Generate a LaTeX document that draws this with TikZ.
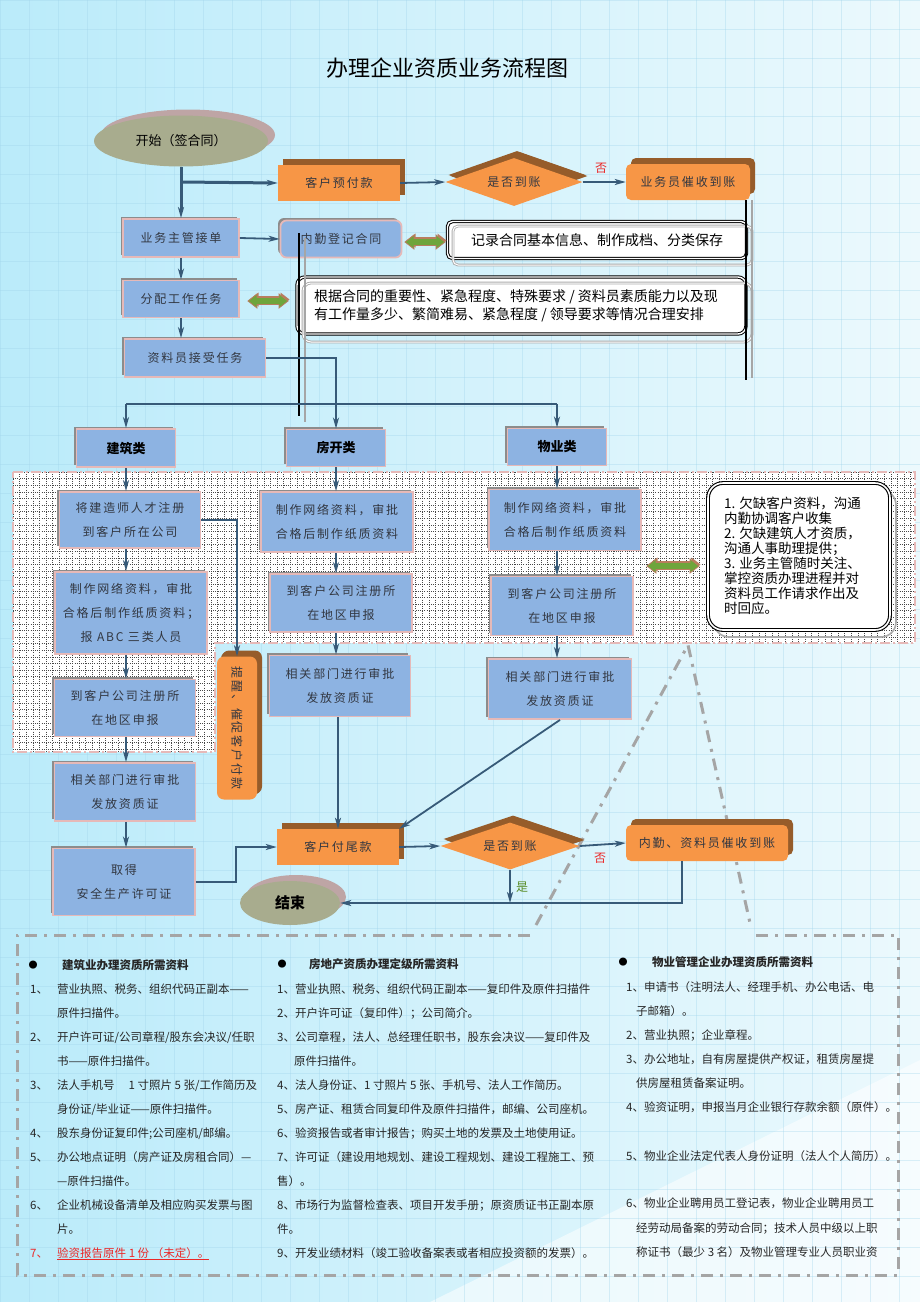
\documentclass[tikz,border=0pt]{standalone}
\usepackage{fontspec}
\setmainfont{Noto Sans CJK SC}
\newfontfamily\spacedfont[LetterSpace=15]{Noto Sans CJK SC}
\usetikzlibrary{shapes.geometric,arrows.meta,shadows,calc}
\definecolor{bgA}{RGB}{186,235,250}
\definecolor{bgB}{RGB}{236,249,253}
\definecolor{boxblue}{RGB}{141,179,226}
\definecolor{boxpink}{RGB}{230,185,184}
\definecolor{orng}{RGB}{247,150,70}
\definecolor{brwn}{RGB}{150,92,42}
\definecolor{olivec}{RGB}{168,172,142}
\definecolor{ellsh}{RGB}{190,165,165}
\definecolor{lnblue}{RGB}{55,90,120}
\definecolor{arrfill}{RGB}{110,150,180}
\definecolor{txtgray}{RGB}{50,55,65}
\definecolor{ddgray}{RGB}{165,165,165}
\definecolor{dgreen}{RGB}{110,165,60}
\definecolor{dbrown}{RGB}{185,125,95}
\definecolor{redc}{RGB}{235,40,40}
\definecolor{greenc}{RGB}{90,140,40}
\definecolor{gridc}{RGB}{160,212,235}
\newcommand\bxf{\spacedfont\fontsize{12}{24}\selectfont}
\newcommand\btf{\fontsize{11.5}{14}\selectfont}
\newcommand\dblarr[3]{%
  \fill[dbrown] ($(#1-#3/2+1.5,#2-1.5)$) -- ++(9,-7) -- ++(0,3.5) -- ++(#3-18,0) -- ++(0,-3.5) -- ++(9,7) -- ++(-9,7) -- ++(0,-3.5) -- ++(-#3+18,0) -- ++(0,3.5) -- cycle;
  \filldraw[fill=dgreen, draw=dbrown, line width=0.8pt] (#1-#3/2,#2) -- ++(9,-7) -- ++(0,3.5) -- ++(#3-18,0) -- ++(0,-3.5) -- ++(9,7) -- ++(-9,7) -- ++(0,-3.5) -- ++(-#3+18,0) -- ++(0,3.5) -- cycle;}
\begin{document}
\begin{tikzpicture}[x=1pt,y=-1pt,
  bluebox/.style={draw=boxpink, line width=1.8pt, fill=boxblue, general shadow={shadow xshift=-2.5pt, shadow yshift=2.5pt, fill=black!45}, text=txtgray, font=\bxf, align=center, inner sep=0pt},
  orangebox/.style={fill=orng, general shadow={shadow xshift=5pt, shadow yshift=6pt, fill=brwn}, text=txtgray, font=\bxf, align=center, inner sep=0pt},
  conn/.style={draw=lnblue, line width=1.8pt, -{Stealth[length=11pt,width=6pt,inset=3pt,fill=arrfill]}},
  thickconn/.style={conn, line width=3pt},
  plainline/.style={draw=lnblue, line width=1.8pt},
  griddot/.style={black!72, line width=0.5pt, dash pattern=on 1pt off 1.2pt},
  pinkdash/.style={boxpink, line width=1.6pt, dash pattern=on 10pt off 3pt on 2pt off 3pt},
  ddash/.style={ddgray, line width=3pt, dash pattern=on 12pt off 7pt on 3pt off 7pt},
  btxt/.style={anchor=base west, inner sep=0pt, font=\btf, text=black!85},
  cat/.style={bluebox, font=\fontsize{13}{15}\selectfont\bfseries, text=black}
]
\useasboundingbox (0,0) rectangle (920,1302);
% background
\shade[left color=bgA, right color=bgB] (0,0) rectangle (920,1302);
\fill[white, opacity=0.55] (430,1302) -- (920,1060) -- (920,1302) -- cycle;
\foreach \x in {0,29,...,920} \draw[gridc, line width=0.6pt, opacity=0.35] (\x,0) -- (\x,1302);
\foreach \y in {0,29,...,1302} \draw[gridc, line width=0.6pt, opacity=0.35] (0,\y) -- (920,\y);

% title
\node[font=\fontsize{22}{26}\selectfont, text=black] (title) at (447,68) {办理企业资质业务流程图};

% dotted grid region
\fill[white] (13,472) -- (915,472) -- (915,643) -- (215,643) -- (215,752) -- (13,752) -- cycle;
\begin{scope}
\clip (13,472) -- (915,472) -- (915,643) -- (215,643) -- (215,752) -- (13,752) -- cycle;
\foreach \x in {13,19.6,...,915} \draw[griddot] (\x,472) -- (\x,752);
\foreach \y in {472,478.6,...,752} \draw[griddot] (13,\y) -- (915,\y);
\end{scope}
\draw[pinkdash] (13,472) -- (915,472) -- (915,643) -- (215,643) -- (215,752) -- (13,752) -- cycle;

% bottom dash-dot frame and callout legs
\draw[ddash] (536,925) -- (688,645) -- (750,923);
\draw[ddash] (530,935) -- (17,935) -- (17,1275) -- (898,1275) -- (898,935) -- (751,935);

% ---- top part
\node[ellipse, fill=olivec, general shadow={shadow xshift=7pt, shadow yshift=6pt, fill=ellsh}, minimum width=174pt, minimum height=51pt, inner sep=0pt, font=\fontsize{13}{15}\selectfont, text=black] (st) at (181,141) {开始（签合同）};
\node[orangebox, minimum width=122pt, minimum height=36pt] (kyf) at (339,183) {客户预付款};
\node[orangebox, diamond, aspect=3, minimum width=137pt, minimum height=48pt, general shadow={shadow xshift=3pt, shadow yshift=7pt, fill=brwn}] (d1) at (514,182) {是否到账};
\node[orangebox, rounded corners=5pt, minimum width=124pt, minimum height=36pt] (ysc) at (688,182) {业务员催收到账};
\node[text=redc, font=\fontsize{12}{14}\selectfont, inner sep=0pt] (no1) at (601,168) {否};

\node[bluebox, minimum width=116pt, minimum height=38pt] (zgjd) at (181,238) {业务主管接单};
\node[bluebox, rounded corners=6pt, minimum width=121pt, minimum height=37pt] (njdj) at (341,239) {内勤登记合同};
\node[bluebox, minimum width=116pt, minimum height=37pt] (fp) at (181,299) {分配工作任务};
\node[bluebox, minimum width=141pt, minimum height=38pt] (zl) at (195,358) {资料员接受任务};

% record box
\node[draw=black, double=white, double distance=1.4pt, line width=1pt, fill=white, rounded corners=5pt, minimum width=299pt, minimum height=37pt, inner sep=0pt] (jl) at (597,240) {};
\draw[gray!65, double=white, double distance=1pt, line width=0.9pt, rounded corners=5pt] (453,226) rectangle (752,265);
\node[font=\fontsize{14}{16}\selectfont, text=black, inner sep=0pt] (jlt) at (597,240) {记录合同基本信息、制作成档、分类保存};

% arrangement box
\node[draw=black, double=white, double distance=1.4pt, line width=1pt, fill=white, rounded corners=8pt, minimum width=449pt, minimum height=57pt, inner sep=0pt] (gj) at (521.5,305.5) {};
\draw[gray!65, double=white, double distance=1pt, line width=0.9pt, rounded corners=8pt] (303,283) rectangle (752,342);
\node[anchor=west, align=left, font=\fontsize{14}{18}\selectfont, text=black, inner sep=0pt] (gjt) at (314,306) {根据合同的重要性、紧急程度、特殊要求 / 资料员素质能力以及现\\有工作量多少、繁简难易、紧急程度 / 领导要求等情况合理安排};

% vertical double lines
\draw[black, line width=1.3pt] (299,233) -- (299,416);
\draw[gray!70, line width=1.3pt] (305,238) -- (305,422);
\draw[black, line width=1.3pt] (746,200) -- (746,380);
\draw[gray!70, line width=1.3pt] (752,200) -- (752,378);

\dblarr{425}{242}{40}
\dblarr{268}{301}{40}
\dblarr{673}{566}{52}

% categories
\node[cat, minimum width=99pt, minimum height=38pt] (jz) at (126,448) {建筑类};
\node[cat, minimum width=99pt, minimum height=37pt] (fk) at (336,448) {房开类};
\node[cat, minimum width=99pt, minimum height=37pt] (wy) at (557,447) {物业类};

% column 1
\node[bluebox, minimum width=141pt, minimum height=56pt] (a1) at (130,520) {将建造师人才注册\\到客户所在公司};
\node[bluebox, minimum width=152pt, minimum height=82pt] (a2) at (131,613) {制作网络资料，审批\\合格后制作纸质资料；\\报 ABC 三类人员};
\node[bluebox, minimum width=141pt, minimum height=57pt] (a3) at (125,708) {到客户公司注册所\\在地区申报};
\node[bluebox, minimum width=141pt, minimum height=58pt] (a4) at (125,792) {相关部门进行审批\\发放资质证};
\node[bluebox, minimum width=142pt, minimum height=67pt] (a5) at (124,882) {取得\\安全生产许可证};

% column 2
\node[bluebox, minimum width=152pt, minimum height=60pt] (b1) at (337,522) {制作网络资料，审批\\合格后制作纸质资料};
\node[bluebox, minimum width=142pt, minimum height=58pt] (b2) at (341,603) {到客户公司注册所\\在地区申报};
\node[bluebox, minimum width=141pt, minimum height=61pt] (b3) at (340,686) {相关部门进行审批\\发放资质证};

% column 3
\node[bluebox, minimum width=152pt, minimum height=61pt] (c1) at (565,520) {制作网络资料，审批\\合格后制作纸质资料};
\node[bluebox, minimum width=142pt, minimum height=59pt] (c2) at (562,606) {到客户公司注册所\\在地区申报};
\node[bluebox, minimum width=143pt, minimum height=60pt] (c3) at (560,689) {相关部门进行审批\\发放资质证};

% reminder box
\node[orangebox, rounded corners=7pt, minimum width=40pt, minimum height=143pt, general shadow={shadow xshift=4pt, shadow yshift=5pt, fill=brwn}] (tx) at (237,728) {};
\node[rotate=-90, font=\spacedfont\fontsize{12}{14}\selectfont, text=txtgray, inner sep=0pt] (txt) at (tx.center) {提醒、催促客户付款};

% callout box right
\draw[gray!65, line width=1.6pt, rounded corners=15pt] (714,490) rectangle (896,637);
\node[draw=black, double=white, double distance=1.6pt, line width=1.1pt, fill=white, rounded corners=15pt, minimum width=182pt, minimum height=147pt, inner sep=0pt] (cb) at (799,556.5) {};
\node[anchor=north west, align=left, font=\fontsize{13.5}{15}\selectfont, text=black, inner sep=0pt] (cbt) at (724,497) {1. 欠缺客户资料，沟通\\内勤协调客户收集\\2. 欠缺建筑人才资质，\\沟通人事助理提供；\\3. 业务主管随时关注、\\掌控资质办理进程并对\\资料员工作请求作出及\\时回应。};

% bottom flow
\node[orangebox, minimum width=122pt, minimum height=36pt] (kwk) at (338,847) {客户付尾款};
\node[orangebox, diamond, aspect=3, minimum width=139pt, minimum height=47pt, general shadow={shadow xshift=3pt, shadow yshift=7pt, fill=brwn}] (d2) at (510,846) {是否到账};
\node[orangebox, rounded corners=5pt, minimum width=162pt, minimum height=36pt] (nqcs) at (707,843) {内勤、资料员催收到账};
\node[ellipse, fill=olivec, general shadow={shadow xshift=6pt, shadow yshift=6pt, fill=ellsh}, minimum width=100pt, minimum height=44pt, inner sep=0pt, font=\fontsize{15}{17}\selectfont\bfseries, text=black] (end) at (290,903) {结束};
\node[text=redc, font=\fontsize{12}{14}\selectfont, inner sep=0pt] (no2) at (600,858) {否};
\node[text=greenc, font=\fontsize{12}{14}\selectfont, inner sep=0pt] (yes2) at (522,887) {是};

% connectors
\coordinate (br) at (181,182);
\coordinate (hy) at (0,404);
\coordinate (cx1) at (126,0);
\coordinate (cx2) at (336,0);
\coordinate (cx3) at (557,0);
\coordinate (k1) at (236,0);
\coordinate (jy) at (0,903);
\coordinate (nq) at (682,0);

\draw[thickconn] (st.south) -- (zgjd.north);
\draw[thickconn] (br) -- (kyf.west);
\draw[conn] (kyf.east) -- (d1.west);
\draw[conn] (d1.east) -- (ysc.west);
\draw[conn] (zgjd.east) -- (njdj.west);
\draw[conn] (zgjd.south) -- (fp.north);
\draw[conn] (fp.south) -- (fp.south |- zl.north);
\draw[conn] (zl.east) -| (fk.north);
\draw[plainline] (jz.north |- hy) -- (wy.north |- hy);
\draw[conn] (jz.north |- hy) -- (jz.north);
\draw[conn] (wy.north |- hy) -- (wy.north);

\draw[conn] (jz.south) -- (cx1 |- a1.north);
\draw[conn] (cx1 |- a1.south) -- (cx1 |- a2.north);
\draw[conn] (cx1 |- a2.south) -- (cx1 |- a3.north);
\draw[conn] (cx1 |- a3.south) -- (cx1 |- a4.north);
\draw[conn] (cx1 |- a4.south) -- (cx1 |- a5.north);

\draw[conn] (fk.south) -- (cx2 |- b1.north);
\draw[conn] (cx2 |- b1.south) -- (cx2 |- b2.north);
\draw[conn] (cx2 |- b2.south) -- (cx2 |- b3.north);

\draw[conn] (wy.south) -- (cx3 |- c1.north);
\draw[conn] (cx3 |- c1.south) -- (cx3 |- c2.north);
\draw[conn] (cx3 |- c2.south) -- (cx3 |- c3.north);

\draw[conn] (a1.east) -| (tx.north);
\draw[conn] (a5.east) -- (a5.east -| k1) |- (kwk.west);
\draw[conn] (b3.south -| kwk.north) -- (kwk.north);
\draw[conn] (c3.south) -- (kwk.north east);
\draw[conn] (kwk.east) -- (d2.west);
\draw[conn] (d2.east) -- (nqcs.west);
\draw[conn] (d2.south) -- (d2.south |- jy);
\draw[conn] (nq |- nqcs.south) -- (nq |- jy) -- (jy -| end.east);

% ---- bottom text column 1
\node[font=\fontsize{9}{10}\selectfont, inner sep=0pt] (bu1) at (33,965) {●};
\node[btxt, font=\btf\bfseries] (h1) at (62,969) {建筑业办理资质所需资料};
\node[btxt] (n11) at (30,993) {1、};
\node[btxt] (l11) at (57,993) {营业执照、税务、组织代码正副本——};
\node[btxt] (l12) at (57,1017) {原件扫描件。};
\node[btxt] (n12) at (30,1041) {2、};
\node[btxt] (l13) at (57,1041) {开户许可证/公司章程/股东会决议/任职};
\node[btxt] (l14) at (57,1065) {书——原件扫描件。};
\node[btxt] (n13) at (30,1089) {3、};
\node[btxt] (l15) at (57,1089) {法人手机号\hspace{14pt}1 寸照片 5 张/工作简历及};
\node[btxt] (l16) at (57,1113) {身份证/毕业证——原件扫描件。};
\node[btxt] (n14) at (30,1137) {4、};
\node[btxt] (l17) at (57,1137) {股东身份证复印件;公司座机/邮编。};
\node[btxt] (n15) at (30,1161) {5、};
\node[btxt] (l18) at (57,1161) {办公地点证明（房产证及房租合同）—};
\node[btxt] (l19) at (57,1185) {—原件扫描件。};
\node[btxt] (n16) at (30,1209) {6、};
\node[btxt] (l1a) at (57,1209) {企业机械设备清单及相应购买发票与图};
\node[btxt] (l1b) at (57,1233) {片。};
\node[btxt, text=redc] (n17) at (30,1257) {7、};
\node[btxt, text=redc] (l1c) at (57,1257) {\underline{验资报告原件 1 份 （未定）。}};

% column 2
\node[font=\fontsize{9}{10}\selectfont, inner sep=0pt] (bu2) at (282,964) {●};
\node[btxt, font=\btf\bfseries] (h2) at (309,968) {房地产资质办理定级所需资料};
\node[btxt] (l21) at (277,993) {1、营业执照、税务、组织代码正副本——复印件及原件扫描件};
\node[btxt] (l22) at (277,1017) {2、开户许可证（复印件）；公司简介。};
\node[btxt] (l23) at (277,1041) {3、公司章程，法人、总经理任职书，股东会决议——复印件及};
\node[btxt] (l24) at (294,1065) {原件扫描件。};
\node[btxt] (l25) at (277,1089) {4、法人身份证、1 寸照片 5 张、手机号、法人工作简历。};
\node[btxt] (l26) at (277,1113) {5、房产证、租赁合同复印件及原件扫描件，邮编、公司座机。};
\node[btxt] (l27) at (277,1137) {6、验资报告或者审计报告；购买土地的发票及土地使用证。};
\node[btxt] (l28) at (277,1161) {7、许可证（建设用地规划、建设工程规划、建设工程施工、预};
\node[btxt] (l29) at (277,1185) {售）。};
\node[btxt] (l2a) at (277,1209) {8、市场行为监督检查表、项目开发手册；原资质证书正副本原};
\node[btxt] (l2b) at (277,1233) {件。};
\node[btxt] (l2c) at (277,1257) {9、开发业绩材料（竣工验收备案表或者相应投资额的发票）。};

% column 3
\node[font=\fontsize{9}{10}\selectfont, inner sep=0pt] (bu3) at (623,962) {●};
\node[btxt, font=\btf\bfseries] (h3) at (652,966) {物业管理企业办理资质所需资料};
\node[btxt] (l31) at (626,991) {1、申请书（注明法人、经理手机、办公电话、电};
\node[btxt] (l32) at (636,1015) {子邮箱）。};
\node[btxt] (l33) at (626,1039) {2、营业执照；企业章程。};
\node[btxt] (l34) at (626,1063) {3、办公地址，自有房屋提供产权证，租赁房屋提};
\node[btxt] (l35) at (636,1087) {供房屋租赁备案证明。};
\node[btxt] (l36) at (626,1111) {4、验资证明，申报当月企业银行存款余额（原件）。};
\node[btxt] (l37) at (626,1160) {5、物业企业法定代表人身份证明（法人个人简历）。};
\node[btxt] (l38) at (626,1207) {6、物业企业聘用员工登记表，物业企业聘用员工};
\node[btxt] (l39) at (636,1232) {经劳动局备案的劳动合同；技术人员中级以上职};
\node[btxt] (l3a) at (636,1256) {称证书（最少 3 名）及物业管理专业人员职业资};
\end{tikzpicture}
\end{document}
